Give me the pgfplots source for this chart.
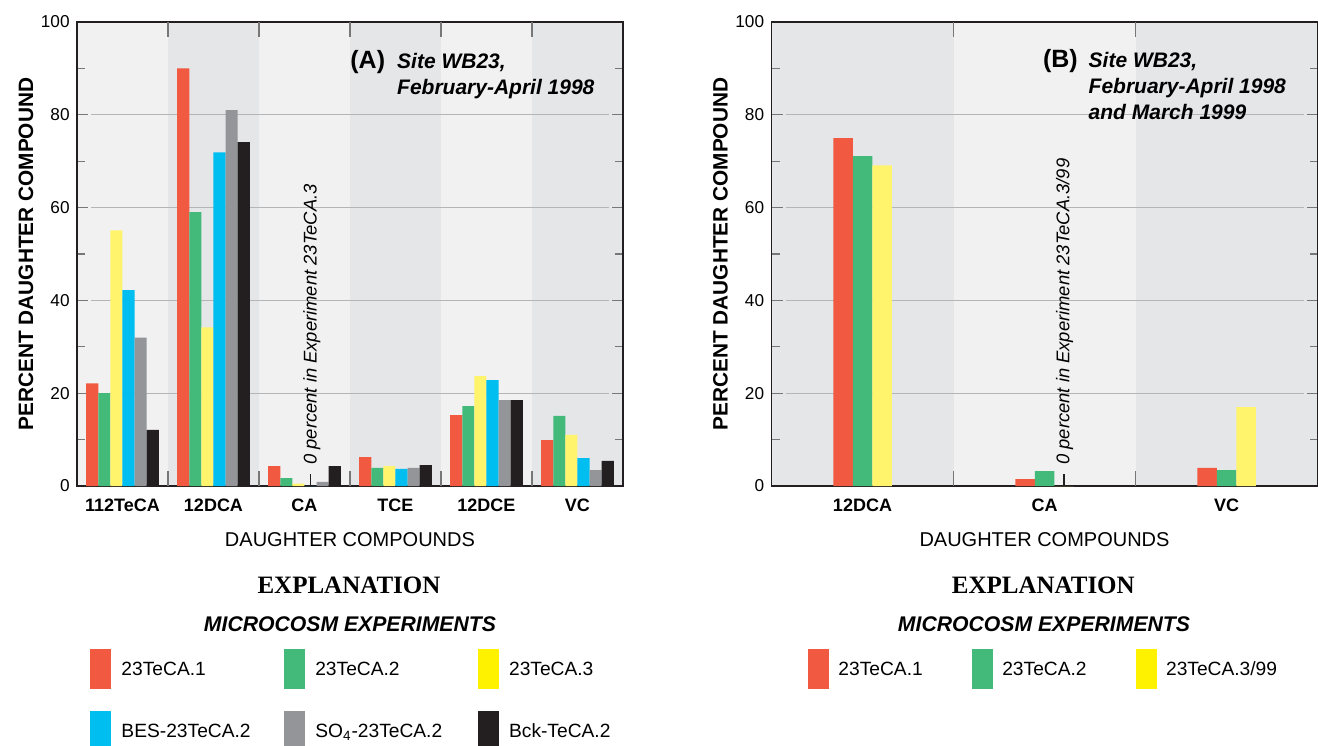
\documentclass[border=0pt]{standalone}
\usepackage{pgfplots}
\usepackage{pgfplotstable}
\pgfplotsset{compat=1.18}
\usepackage{fontspec}
\setmainfont{Liberation Sans}
\newfontfamily\serifbf{Liberation Serif}
\definecolor{cred}{HTML}{F15A40}
\definecolor{cgreen}{HTML}{43B97A}
\definecolor{cyellow}{HTML}{FFF46B}
\definecolor{lyellow}{HTML}{FFF200}
\definecolor{ccyan}{HTML}{00BEF0}
\definecolor{cgray}{HTML}{939598}
\definecolor{cblack}{HTML}{231F20}
\definecolor{bglight}{HTML}{F1F1F1}
\definecolor{bgdark}{HTML}{E5E6E8}
\definecolor{gridc}{HTML}{B5B5B5}
\definecolor{tickc}{HTML}{777777}

\pgfplotstableread{
x r g y c s k
0 22.1 20.0 55.1 42.2 32.0 12.1
1 90.0 59.0 34.2 71.9 81.0 74.1
2 4.3 1.7 0.5 0.0 0.9 4.3
3 6.2 3.9 4.3 3.7 3.9 4.5
4 15.3 17.2 23.7 22.8 18.5 18.5
5 9.9 15.1 11.0 6.0 3.4 5.4
}\dataA
\pgfplotstableread{
x r g y
0 75.0 71.1 69.1
1 1.5 3.2 0.0
2 3.9 3.4 17.0
}\dataB

\tikzset{
  gridl/.style={gridc, line width=0.6pt},
  bt/.style={tickc, line width=0.6pt},
  note/.style={rotate=90, anchor=west, inner sep=0pt, font=\itshape\fontsize{9.2}{11}\selectfont},
}
\newcommand{\gridlines}{%
  \draw[gridl] (7pt,46.4pt) -- (266pt,46.4pt);
  \draw[gridl] (7pt,92.8pt) -- (266pt,92.8pt);
  \draw[gridl] (7pt,139.2pt) -- (266pt,139.2pt);
  \draw[gridl] (7pt,185.6pt) -- (266pt,185.6pt);}
\pgfplotsset{
  layers/barsfirst/.define layer set={axis background,axis grid,main,axis ticks,axis lines,axis tick labels,axis descriptions,axis foreground}{},
  panel/.style={
    set layers=barsfirst,
    scale only axis, width=273pt, height=232pt,
    anchor=south west,
    ymin=0, ymax=100,
    ytick={0,20,...,100}, minor ytick={10,30,...,90},
    ytick pos=both, yticklabel pos=left,
    tick align=inside, major tick length=5.5pt, minor tick length=4pt,
    ytick style={color=tickc, line width=0.6pt},
    minor tick style={color=tickc, line width=0.6pt},
    xtick style={draw=none},
    xtick pos=bottom,
    axis line style={color=cblack, line width=0.8pt},
    /pgf/number format/assume math mode=true,
    yticklabel style={font=\fontsize{8.6}{10}\selectfont, inner sep=0pt, anchor=east, xshift=-3.5pt},
    xticklabel style={font=\fontsize{9}{10}\selectfont\bfseries, inner sep=0pt, anchor=base, yshift=-12.75pt},
    every axis y label/.style={at={([xshift=-25.5pt]axis description cs:0,0.5)}, rotate=90, anchor=center, inner sep=0pt, font=\fontsize{10.4}{12}\selectfont\bfseries},
    every axis x label/.style={at={([yshift=-30.25pt]axis description cs:0.5,0)}, anchor=base, inner sep=0pt, font=\fontsize{10}{12}\selectfont},
    ylabel={PERCENT DAUGHTER COMPOUND}, xlabel={DAUGHTER COMPOUNDS},
    legend columns=3,
    legend cell align=left,
    legend style={draw=none, fill=none, inner sep=0pt, outer sep=0pt, anchor=north west, row sep=11pt,
      font=\fontsize{9.6}{11}\selectfont, nodes={inner sep=0pt, text height=7pt, text depth=0pt}},
  },
}

\begin{document}
\begin{tikzpicture}

% ---------------- Panel A ----------------
\begin{axis}[panel, name=A, at={(38.5pt,-243pt)},
  xmin=-0.5, xmax=5.5, xtick={0,...,5},
  xticklabels={112TeCA,12DCA,CA,TCE,12DCE,VC},
  axis background/.style={fill=bglight, path picture={
    \begin{scope}[shift={(path picture bounding box.south west)}]
    \fill[bgdark] (45.5pt,0pt) rectangle (91pt,232pt);
    \fill[bgdark] (136.5pt,0pt) rectangle (182pt,232pt);
    \fill[bgdark] (227.5pt,0pt) rectangle (273pt,232pt);
    \gridlines
    \end{scope}}},
  legend style={at={(axis description cs:0.0238,-0.3513)}, /tikz/every odd column/.append style={column sep=5.35pt}},
]
\addplot[ybar, bar width=6.05pt, bar shift=-15.125pt, fill=cred, draw=none, forget plot] table[x=x,y=r]{\dataA};
\addplot[ybar, bar width=6.05pt, bar shift=-9.075pt, fill=cgreen, draw=none, forget plot] table[x=x,y=g]{\dataA};
\addplot[ybar, bar width=6.05pt, bar shift=-3.025pt, fill=cyellow, draw=none, forget plot] table[x=x,y=y]{\dataA};
\addplot[ybar, bar width=6.05pt, bar shift=3.025pt, fill=ccyan, draw=none, forget plot] table[x=x,y=c]{\dataA};
\addplot[ybar, bar width=6.05pt, bar shift=9.075pt, fill=cgray, draw=none, forget plot] table[x=x,y=s]{\dataA};
\addplot[ybar, bar width=6.05pt, bar shift=15.125pt, fill=cblack, draw=none, forget plot] table[x=x,y=k]{\dataA};
\draw[bt] (axis cs:0.5,0) -- ([yshift=7.5pt]axis cs:0.5,0);
\draw[bt] (axis cs:1.5,0) -- ([yshift=7.5pt]axis cs:1.5,0);
\draw[bt] (axis cs:2.5,0) -- ([yshift=7.5pt]axis cs:2.5,0);
\draw[bt] (axis cs:3.5,0) -- ([yshift=7.5pt]axis cs:3.5,0);
\draw[bt] (axis cs:4.5,0) -- ([yshift=7.5pt]axis cs:4.5,0);
\draw[bt] (axis cs:0.5,100) -- ([yshift=-7.5pt]axis cs:0.5,100);
\draw[bt] (axis cs:1.5,100) -- ([yshift=-7.5pt]axis cs:1.5,100);
\draw[bt] (axis cs:2.5,100) -- ([yshift=-7.5pt]axis cs:2.5,100);
\draw[bt] (axis cs:3.5,100) -- ([yshift=-7.5pt]axis cs:3.5,100);
\draw[bt] (axis cs:4.5,100) -- ([yshift=-7.5pt]axis cs:4.5,100);
\draw[cblack, line width=0.6pt] (axis cs:2.0665,0) -- ([yshift=6pt]axis cs:2.0665,0);
\node[note] at (axis cs:2.08,4.5) {0 percent in Experiment 23TeCA.3};
\addlegendimage{legend image code/.code={\fill[cred] (0pt,-9.75pt) rectangle (10pt,9.75pt);}}
\addlegendentry{\makebox[81.15pt][l]{23TeCA.1}}
\addlegendimage{legend image code/.code={\fill[cgreen] (0pt,-9.75pt) rectangle (10pt,9.75pt);}}
\addlegendentry{\makebox[81.15pt][l]{23TeCA.2}}
\addlegendimage{legend image code/.code={\fill[lyellow] (0pt,-9.75pt) rectangle (10pt,9.75pt);}}
\addlegendentry{\makebox[81.15pt][l]{23TeCA.3}}
\addlegendimage{legend image code/.code={\fill[ccyan] (0pt,-9.75pt) rectangle (10pt,9.75pt);}}
\addlegendentry{\makebox[81.15pt][l]{BES-23TeCA.2}}
\addlegendimage{legend image code/.code={\fill[cgray] (0pt,-9.75pt) rectangle (10pt,9.75pt);}}
\addlegendentry{\makebox[81.15pt][l]{SO\textsubscript{4}-23TeCA.2}}
\addlegendimage{legend image code/.code={\fill[cblack] (0pt,-9.75pt) rectangle (10pt,9.75pt);}}
\addlegendentry{\makebox[81.15pt][l]{Bck-TeCA.2}}
\end{axis}

% ---------------- Panel B ----------------
\begin{axis}[panel, name=B, at={(385.75pt,-243pt)},
  xmin=-0.5, xmax=2.5, xtick={0,1,2},
  xticklabels={12DCA,CA,VC},
  axis background/.style={fill=bglight, path picture={
    \begin{scope}[shift={(path picture bounding box.south west)}]
    \fill[bgdark] (0pt,0pt) rectangle (91pt,232pt);
    \fill[bgdark] (182pt,0pt) rectangle (273pt,232pt);
    \gridlines
    \end{scope}}},
  legend style={at={(axis description cs:0.0668,-0.3513)}, /tikz/every odd column/.append style={column sep=4.85pt}},
]
\addplot[ybar, bar width=9.75pt, bar shift=-9.75pt, fill=cred, draw=none, forget plot] table[x=x,y=r]{\dataB};
\addplot[ybar, bar width=9.75pt, bar shift=0pt, fill=cgreen, draw=none, forget plot] table[x=x,y=g]{\dataB};
\addplot[ybar, bar width=9.75pt, bar shift=9.75pt, fill=cyellow, draw=none, forget plot] table[x=x,y=y]{\dataB};
\draw[bt] (axis cs:0.5,0) -- ([yshift=7.5pt]axis cs:0.5,0);
\draw[bt] (axis cs:1.5,0) -- ([yshift=7.5pt]axis cs:1.5,0);
\draw[bt] (axis cs:0.5,100) -- ([yshift=-7.5pt]axis cs:0.5,100);
\draw[bt] (axis cs:1.5,100) -- ([yshift=-7.5pt]axis cs:1.5,100);
\draw[cblack, line width=0.6pt] (axis cs:1.107,0) -- ([yshift=6pt]axis cs:1.107,0);
\node[note] at (axis cs:1.11,4.5) {0 percent in Experiment 23TeCA.3/99};
\addlegendimage{legend image code/.code={\fill[cred] (0pt,-9.75pt) rectangle (10pt,9.75pt);}}
\addlegendentry{\makebox[66.65pt][l]{23TeCA.1}}
\addlegendimage{legend image code/.code={\fill[cgreen] (0pt,-9.75pt) rectangle (10pt,9.75pt);}}
\addlegendentry{\makebox[66.65pt][l]{23TeCA.2}}
\addlegendimage{legend image code/.code={\fill[lyellow] (0pt,-9.75pt) rectangle (10pt,9.75pt);}}
\addlegendentry{\makebox[66.65pt][l]{23TeCA.3/99}}
\end{axis}

% ---------------- Titles and explanation headings ----------------
\node[anchor=base west, inner sep=0pt, font=\fontsize{12.5}{14}\selectfont\bfseries] at (175pt,-34.2pt) {(A)};
\node[anchor=base west, inner sep=0pt, font=\fontsize{10.5}{13}\selectfont\bfseries\itshape] at (198.4pt,-34.2pt) {Site WB23,};
\node[anchor=base west, inner sep=0pt, font=\fontsize{10.5}{13}\selectfont\bfseries\itshape] at (198.4pt,-47.25pt) {February-April 1998};

\node[anchor=base west, inner sep=0pt, font=\fontsize{12.5}{14}\selectfont\bfseries] at (521.35pt,-33.65pt) {(B)};
\node[anchor=base west, inner sep=0pt, font=\fontsize{10.5}{13}\selectfont\bfseries\itshape] at (544.15pt,-33.65pt) {Site WB23,};
\node[anchor=base west, inner sep=0pt, font=\fontsize{10.5}{13}\selectfont\bfseries\itshape] at (544.15pt,-46.65pt) {February-April 1998};
\node[anchor=base west, inner sep=0pt, font=\fontsize{10.5}{13}\selectfont\bfseries\itshape] at (544.15pt,-59.65pt) {and March 1999};

\node[inner sep=0pt, font=\serifbf\bfseries\fontsize{12.5}{14}\selectfont] at (174.5pt,-292.5pt) {EXPLANATION};
\node[inner sep=0pt, font=\serifbf\bfseries\fontsize{12.5}{14}\selectfont] at (521.65pt,-292.5pt) {EXPLANATION};
\node[inner sep=0pt, font=\bfseries\itshape\fontsize{10.6}{12}\selectfont] at (175pt,-312pt) {MICROCOSM EXPERIMENTS};
\node[inner sep=0pt, font=\bfseries\itshape\fontsize{10.6}{12}\selectfont] at (522pt,-312pt) {MICROCOSM EXPERIMENTS};

\pgfresetboundingbox
\useasboundingbox (0,0) rectangle (659pt,-372.5pt);
\end{tikzpicture}
\end{document}
